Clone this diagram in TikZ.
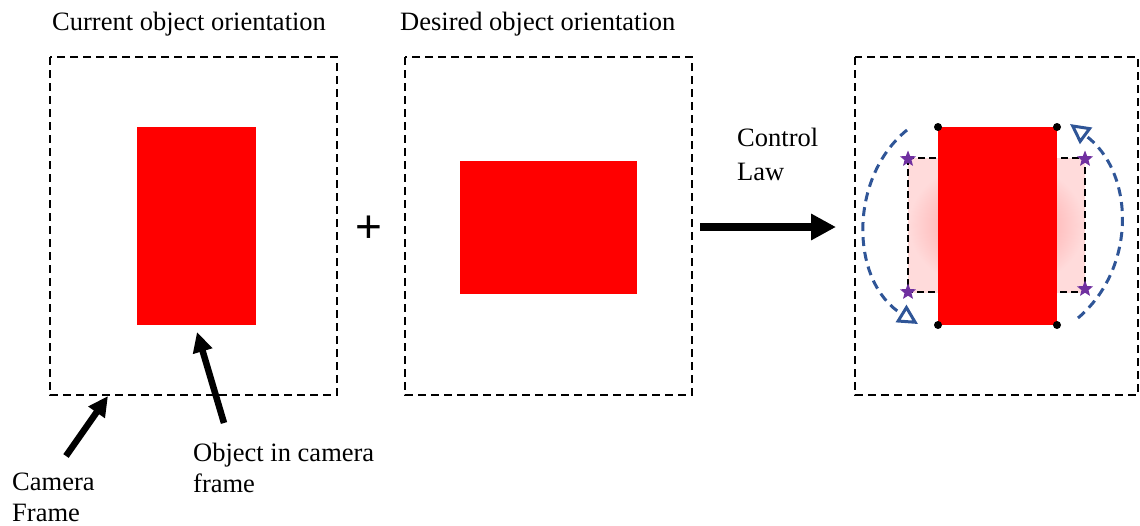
\documentclass[tikz,border=0pt]{standalone}
\usepackage{fontspec}
\setmainfont{Liberation Serif}
\newfontfamily\plusfont{Liberation Sans}
\usetikzlibrary{arrows.meta,shapes.geometric}

\definecolor{arcblue}{RGB}{47,85,151}
\definecolor{starpurple}{RGB}{112,48,160}

\begin{document}
\begin{tikzpicture}[x=1pt,y=-1pt,
  frame/.style={draw,line width=2.8pt,dash pattern=on 8pt off 5pt},
  obj/.style={fill=red},
  lbl/.style={font=\fontsize{26.5}{31}\selectfont,inner sep=0pt,align=left},
  ptr/.style={line width=6.5pt,-{Triangle[length=20pt,width=19pt]}},
  turn/.style={arcblue,line width=3pt,dash pattern=on 9pt off 6pt,-{Triangle[open,length=20pt,width=20pt]}},
  corner/.style={star,star points=5,star point ratio=2.3,fill=starpurple,inner sep=0pt,minimum size=17pt},
  dot/.style={circle,fill=black,inner sep=0pt,minimum size=8pt}]
\useasboundingbox (0,0) rectangle (1140,525);

% titles
\node[lbl,anchor=base west] (tcur) at (52,30) {Current object orientation};
\node[lbl,anchor=base west] (tdes) at (400,30) {Desired object orientation};

% current orientation
\draw[frame] (50,57) rectangle (337,395);
\fill[obj] (137,127) rectangle (256,325);

\node[font=\plusfont\fontsize{46}{46}\selectfont,inner sep=0pt] (plus) at (369,229) {+};

% desired orientation
\draw[frame] (405,57) rectangle (692,395);
\fill[obj] (460,161) rectangle (637,294);

% control law
\node[lbl,anchor=north west] (law) at (737,128) {Control\\[3pt]Law};
\coordinate (lawstart) at (700,227);
\coordinate (lawend) at (836,227);
\draw[line width=8pt,-{Triangle[length=25pt,width=25pt]}] (lawstart) -- (lawend);

% result
\draw[frame] (855,57) rectangle (1138,395);
\shade[inner color=red!48,outer color=red!14] (908,158) rectangle (1085,292);
\draw[frame,line width=2.2pt,dash pattern=on 7pt off 4pt] (908,158) rectangle (1085,292);
\fill[obj] (938,127) rectangle (1057,325);
\foreach \p in {(938,127),(1057,127),(938,325),(1057,325)}
  \node[dot] at \p {};
\foreach \p in {(908,159),(1085,159),(908,292),(1085,289)}
  \node[corner] at \p {};
\draw[turn] (907,130) .. controls (848,178) and (850,282) .. (918,324);
\draw[turn] (1078,318) .. controls (1137,268) and (1135,172) .. (1070,124);

% labels under the first frame
\node[lbl,anchor=north west] (cam) at (12,473) {Camera\\Frame};
\node[lbl,anchor=north west] (objlbl) at (193,443) {Object in camera\\frame};
\coordinate (camtail) at (66,456);
\coordinate (camtip) at (108,396);
\coordinate (objtail) at (224,423);
\coordinate (objtip) at (197,332);
\draw[ptr] (camtail) -- (camtip);
\draw[ptr] (objtail) -- (objtip);
\end{tikzpicture}
\end{document}
